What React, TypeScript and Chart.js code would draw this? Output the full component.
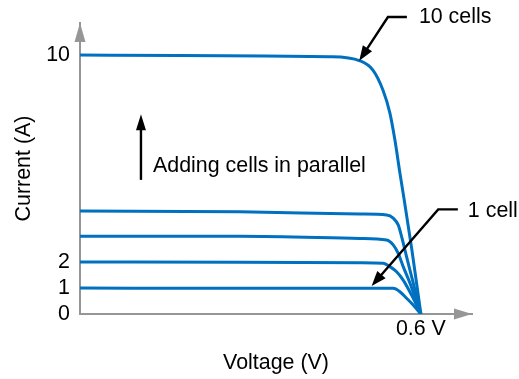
import React, { useEffect, useRef } from 'react';
import { Chart, registerables } from 'chart.js';

Chart.register(...registerables);

// Series: voltage (V) and current (A)
const voltage1 = [0, 0.2815, 0.4927, 0.5513, 0.5631, 0.5749, 0.5865, 0.6];
const current1 = [1.0, 0.99, 0.99, 0.99, 0.86, 0.61, 0.35, 0];

const voltage2 = [0, 0.2815, 0.4927, 0.5337, 0.5455, 0.5573, 0.5689, 0.5837, 0.6];
const current2 = [2.01, 2.0, 1.98, 1.96, 1.83, 1.63, 1.31, 0.73, 0];

const voltage3 = [0, 0.2815, 0.4927, 0.5397, 0.5513, 0.5601, 0.5689, 0.5807, 0.6];
const current3 = [3.0, 3.0, 2.92, 2.86, 2.67, 2.34, 1.83, 1.2, 0];

const voltage4 = [0, 0.2815, 0.4927, 0.5397, 0.5513, 0.5601, 0.5661, 0.5749, 0.5865, 0.6];
const current4 = [3.98, 3.95, 3.86, 3.82, 3.7, 3.44, 2.99, 2.21, 1.2, 0];

const voltage10 = [0, 0.44, 0.4927, 0.5156, 0.5332, 0.5455, 0.5543, 0.5631, 0.5707, 0.5842, 0.6];
const current10 = [10.0, 9.94, 9.78, 9.42, 8.65, 7.76, 6.72, 5.45, 4.4, 2.47, 0];

const seriesNames = ['1 cell', '2 cells', '3 cells', '4 cells', '10 cells'];
const yTickValues = [0, 1, 2, 10];
const xTickValues = [0.6];
const xTickLabels = ['0.6 V'];

const xTitle = 'Voltage (V)';
const yTitle = 'Current (A)';
const xMax = 0.69;
const yMax = 11.24;

// Annotation anchors in data space
const label10 = { text: '10 cells', tip: [0.4915, 9.78], elbow: [0.542, 11.47], end: [0.5754, 11.47], at: [0.5965, 11.23] };
const label1 = { text: '1 cell', tip: [0.5133, 1.08], elbow: [0.6305, 4.04], end: [0.6651, 4.04], at: [0.6827, 3.76] };
const addArrow = { text: 'Adding cells in parallel', from: [0.1073, 5.18], tip: [0.1073, 7.72], at: [0.1285, 5.5] };

const BLUE = '#0070C0';
const AXIS = '#969696';
const FONT = "'Liberation Sans', Arial, sans-serif";
const FS = 21.4;

function head(ctx: CanvasRenderingContext2D, tx: number, ty: number, fx: number, fy: number, len: number, half: number) {
  const dx = tx - fx, dy = ty - fy;
  const d = Math.hypot(dx, dy) || 1;
  const ux = dx / d, uy = dy / d;
  const bx = tx - ux * len, by = ty - uy * len;
  const nx = -uy, ny = ux;
  ctx.beginPath();
  ctx.moveTo(tx, ty);
  ctx.lineTo(bx + nx * half, by + ny * half);
  ctx.lineTo(bx - nx * half, by - ny * half);
  ctx.closePath();
  ctx.fill();
}

const annotPlugin = {
  id: 'annot',
  afterDraw(chart: any) {
    const { ctx, chartArea, scales } = chart;
    const xs = scales.x, ys = scales.y;
    const P = (p: number[]) => [xs.getPixelForValue(p[0]), ys.getPixelForValue(p[1])];
    ctx.save();
    // axis arrowheads
    ctx.fillStyle = AXIS;
    head(ctx, chartArea.left, chartArea.top, chartArea.left, chartArea.bottom, 19, 5.5);
    head(ctx, chartArea.right, chartArea.bottom, chartArea.left, chartArea.bottom, 18, 5.5);

    ctx.strokeStyle = '#000';
    ctx.fillStyle = '#000';
    ctx.lineWidth = 2.4;
    ctx.font = `${FS}px ${FONT}`;
    ctx.textBaseline = 'alphabetic';
    ctx.textAlign = 'left';

    for (const l of [label10, label1]) {
      const t = P(l.tip), e = P(l.elbow), n = P(l.end), a = P(l.at);
      ctx.beginPath();
      ctx.moveTo(n[0], n[1]);
      ctx.lineTo(e[0], e[1]);
      const dx = t[0] - e[0], dy = t[1] - e[1];
      const d = Math.hypot(dx, dy);
      ctx.lineTo(t[0] - (dx / d) * 10, t[1] - (dy / d) * 10);
      ctx.stroke();
      head(ctx, t[0], t[1], e[0], e[1], 15, 5.5);
      ctx.fillText(l.text, a[0], a[1]);
    }

    const f = P(addArrow.from), tp = P(addArrow.tip), aa = P(addArrow.at);
    ctx.beginPath();
    ctx.moveTo(f[0], f[1]);
    ctx.lineTo(tp[0], tp[1] + 10);
    ctx.stroke();
    head(ctx, tp[0], tp[1], f[0], f[1], 16, 5);
    ctx.fillText(addArrow.text, aa[0], aa[1]);
    ctx.restore();
  },
};

function mk(vs: number[], cs: number[]) {
  return vs.map((v, i) => ({ x: v, y: cs[i] }));
}

export default function App() {
  const ref = useRef<HTMLCanvasElement>(null);
  useEffect(() => {
    if (!ref.current) return;
    const sets = [
      mk(voltage1, current1),
      mk(voltage2, current2),
      mk(voltage3, current3),
      mk(voltage4, current4),
      mk(voltage10, current10),
    ];
    const chart = new Chart(ref.current, {
      type: 'line',
      data: {
        datasets: sets.map((d, i) => ({
          label: seriesNames[i],
          data: d,
          borderColor: BLUE,
          borderWidth: 3,
          pointRadius: 0,
          fill: false,
          cubicInterpolationMode: 'monotone' as const,
        })),
      },
      options: {
        animation: false,
        responsive: false,
        devicePixelRatio: 1,
        layout: { padding: { top: 23, right: 47, left: 0, bottom: 0 } },
        plugins: { legend: { display: false }, tooltip: { enabled: false } },
        scales: {
          x: {
            type: 'linear',
            min: 0,
            max: xMax,
            grid: { display: false, drawTicks: false },
            border: { display: true, color: AXIS, width: 2 },
            afterBuildTicks: (s: any) => { s.ticks = xTickValues.map((v) => ({ value: v })); },
            afterFit: (s: any) => { s.height = 65; },
            ticks: {
              autoSkip: false,
              maxRotation: 0,
              padding: 2,
              color: '#000',
              font: { family: FONT, size: FS },
              callback: (v: any) => xTickLabels[xTickValues.indexOf(Number(v))] ?? '',
            },
            title: { display: true, text: xTitle, color: '#000', font: { family: FONT, size: FS }, padding: { top: 0, bottom: 3 } },
          },
          y: {
            type: 'linear',
            min: 0,
            max: yMax,
            grid: { display: false, drawTicks: false },
            border: { display: true, color: AXIS, width: 2 },
            afterBuildTicks: (s: any) => { s.ticks = yTickValues.map((v) => ({ value: v })); },
            afterFit: (s: any) => { s.width = 80; },
            ticks: {
              autoSkip: false,
              padding: 10,
              color: '#000',
              font: { family: FONT, size: FS },
              callback: (v: any) => String(v),
            },
            title: { display: true, text: yTitle, color: '#000', font: { family: FONT, size: FS }, padding: { top: 11, bottom: 0 } },
          },
        },
      },
      plugins: [annotPlugin],
    });
    return () => chart.destroy();
  }, []);
  return (
    <div style={{ position: 'absolute', left: 0, top: 0, width: 519, height: 379 }}>
      <canvas ref={ref} width={519} height={379} />
    </div>
  );
}
